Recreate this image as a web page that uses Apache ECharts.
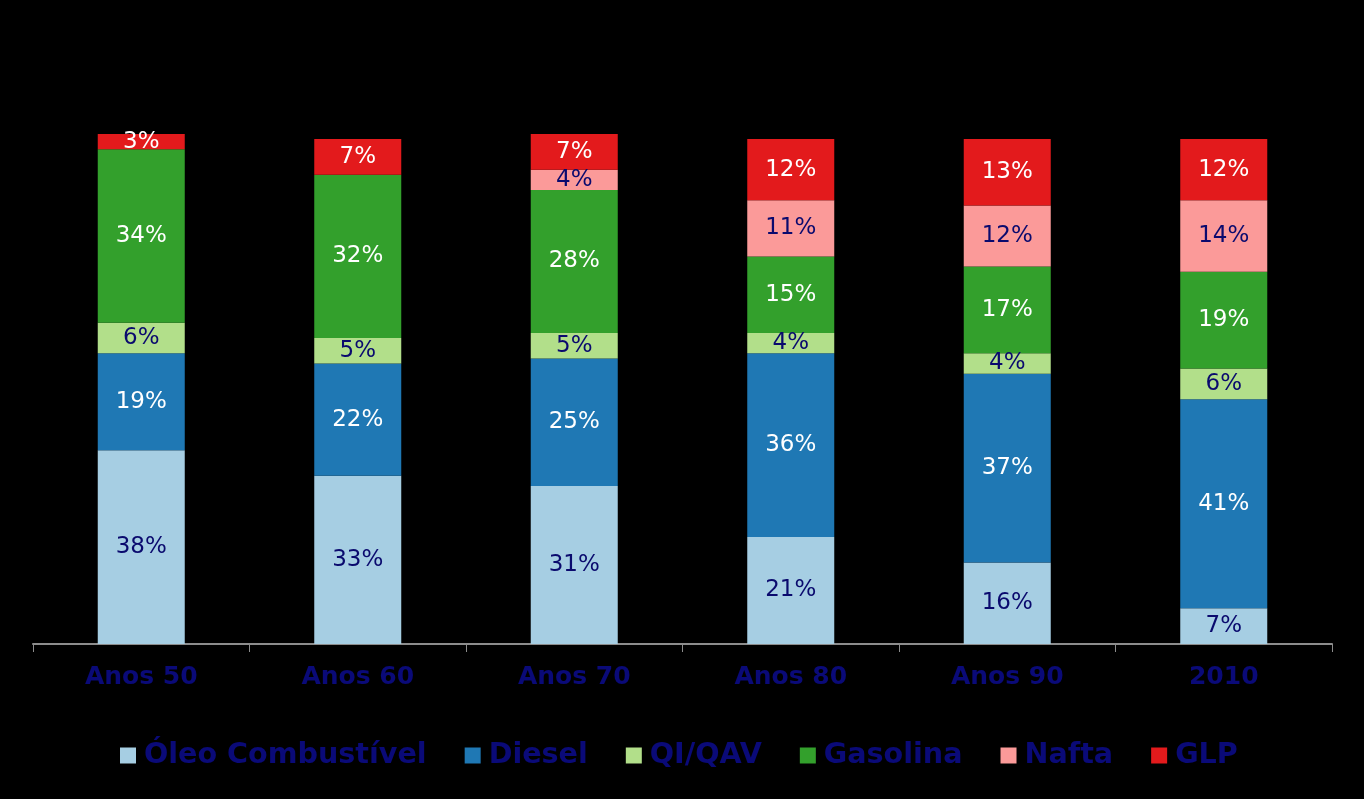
<!DOCTYPE html>
<html>
<head>
<meta charset="utf-8">
<script src="https://cdn.jsdelivr.net/npm/echarts@6/dist/echarts.min.js"></script>
<style>
html,body{margin:0;padding:0;background:#000;}
#chart{width:1364px;height:799px;}
</style>
</head>
<body>
<div id="chart"></div>
<script>
const categories = ['Anos 50', 'Anos 60', 'Anos 70', 'Anos 80', 'Anos 90', '2010'];
const seriesNames = ['Óleo Combustível', 'Diesel', 'QI/QAV', 'Gasolina', 'Nafta', 'GLP'];
const oleo     = [38, 33, 31, 21, 16, 7];
const diesel   = [19, 22, 25, 36, 37, 41];
const qiqav    = [6, 5, 5, 4, 4, 6];
const gasolina = [34, 32, 28, 15, 17, 19];
const nafta    = [0, 0, 4, 11, 12, 14];
const glp      = [3, 7, 7, 12, 13, 12];

const values = [oleo, diesel, qiqav, gasolina, nafta, glp];
const colors = ['#a6cee3', '#1f78b4', '#b2df8a', '#33a02c', '#fb9a99', '#e31a1c'];
const labelColors = ['#0a0a6e', '#ffffff', '#0a0a6e', '#ffffff', '#0a0a6e', '#ffffff'];
const navy = '#0a0a78';

const chart = echarts.init(document.getElementById('chart'));
chart.setOption({
  backgroundColor: '#000000',
  animation: false,
  grid: { left: 33, right: 32, top: 134, bottom: 155, containLabel: false },
  legend: {
    left: 120,
    top: 741,
    padding: 0,
    itemWidth: 16,
    itemHeight: 16,
    itemGap: 38,
    icon: 'rect',
    textStyle: {
      color: navy,
      fontFamily: "'DejaVu Sans', sans-serif",
      fontWeight: 'bold',
      fontSize: 28.6,
      padding: [0, 0, 0, 3]
    },
    data: seriesNames
  },
  xAxis: {
    type: 'category',
    data: categories,
    axisLine: { show: true, lineStyle: { color: '#8c8c8c', width: 2 } },
    axisTick: { show: true, length: 8, lineStyle: { color: '#8c8c8c', width: 1 } },
    axisLabel: {
      color: navy,
      fontFamily: "'DejaVu Sans', sans-serif",
      fontWeight: 'bold',
      fontSize: 25,
      margin: 21
    }
  },
  yAxis: {
    type: 'value',
    min: 0,
    max: 100,
    show: false,
    splitLine: { show: false }
  },
  series: seriesNames.map((name, i) => ({
    name: name,
    type: 'bar',
    stack: 'total',
    barWidth: 87,
    data: values[i],
    itemStyle: { color: colors[i] },
    label: {
      show: true,
      position: 'inside',
      color: labelColors[i],
      fontFamily: "'DejaVu Sans', sans-serif",
      fontSize: 23,
      formatter: p => (p.value ? p.value + '%' : '')
    }
  }))
});
</script>
</body>
</html>
